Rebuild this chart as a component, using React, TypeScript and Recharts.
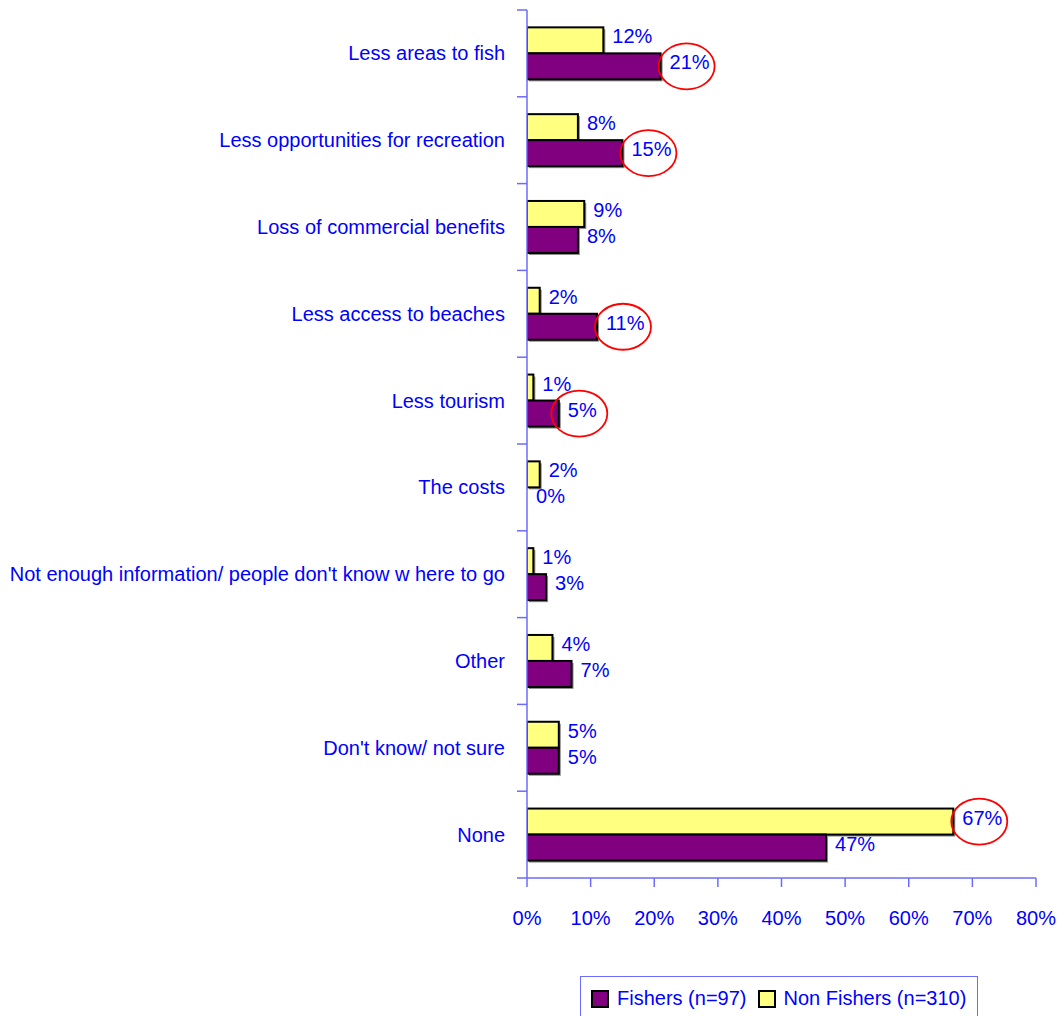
import React from 'react';
import { BarChart, Bar, XAxis, YAxis, LabelList } from 'recharts';

const categories = [
  'Less areas to fish',
  'Less opportunities for recreation',
  'Loss of commercial benefits',
  'Less access to beaches',
  'Less tourism',
  'The costs',
  "Not enough information/ people don't know  w here to go",
  'Other',
  "Don't know/ not sure",
  'None',
];
const fishers = [21, 15, 8, 11, 5, 0, 3, 7, 5, 47];
const nonFishers = [12, 8, 9, 2, 1, 2, 1, 4, 5, 67];
// answers the reference highlights with a red ring
const fishersCircled = [true, true, false, true, true, false, false, false, false, false];
const nonFishersCircled = [false, false, false, false, false, false, false, false, false, true];
const xTicks = [0, 10, 20, 30, 40, 50, 60, 70, 80];

const BLUE = '#0000ff';
const AXIS = '#6b6bff';
const FONT = '"Liberation Sans", Arial, sans-serif';
const PURPLE = '#800080';
const YELLOW = '#ffff80';

const data = categories.map((name, i) => ({
  name,
  fishers: fishers[i],
  nonFishers: nonFishers[i],
}));

/* ── bar with a little drop shadow ─────────────────────── */
function ShadowBar(props: any) {
  const { x, y, width, height, fill } = props;
  if (!width || width <= 0) return null;
  return (
    <g>
      <rect x={x + 2} y={y + 2} width={width} height={height} fill="#8c8c8c" />
      <rect x={x} y={y} width={width} height={height} fill={fill} stroke="#000" strokeWidth={2} />
    </g>
  );
}

/* ── value label, optionally ringed in red ─────────────── */
const makeValueLabel = (circled: boolean[]) => (props: any) => {
  const { x, y, width, height, value, index } = props;
  const tx = x + width + 9;
  const ty = y + height / 2 - 4;
  const textW = String(value).length * 11 + 18;
  return (
    <g>
      <text x={tx} y={ty} fill={BLUE} fontSize={20} fontFamily={FONT} dominantBaseline="central">
        {value}%
      </text>
      {circled[index] && (
        <ellipse
          cx={tx + textW / 2 - 3}
          cy={ty + 4}
          rx={28}
          ry={23}
          fill="none"
          stroke="#ff0000"
          strokeWidth={1.8}
        />
      )}
    </g>
  );
};

/* ── category tick: label + boundary tick marks ────────── */
function CategoryTick(props: any) {
  const { x, y, payload, index } = props;
  const half = payload?.offset || 43.4;
  const axisX = x + 22;
  return (
    <g>
      <text x={x} y={y} textAnchor="end" dominantBaseline="central" fill={BLUE} fontSize={20} fontFamily={FONT}>
        {payload.value}
      </text>
      <line x1={axisX - 10} x2={axisX} y1={y - half} y2={y - half} stroke={AXIS} strokeWidth={1.5} />
      {index === categories.length - 1 && (
        <line x1={axisX - 10} x2={axisX} y1={y + half} y2={y + half} stroke={AXIS} strokeWidth={1.5} />
      )}
    </g>
  );
}

function LegendBox() {
  const sw = (c: string) => ({
    display: 'inline-block',
    width: 14,
    height: 14,
    background: c,
    border: '2px solid #000',
    marginRight: 8,
    verticalAlign: 'middle',
  });
  return (
    <div
      style={{
        position: 'absolute',
        left: 580,
        top: 976,
        width: 398,
        height: 50,
        border: `1.5px solid ${AXIS}`,
        fontFamily: FONT,
        fontSize: 20,
        color: BLUE,
        padding: '9px 0 0 10px',
        boxSizing: 'border-box',
        whiteSpace: 'nowrap',
      }}
    >
      <span style={sw(PURPLE)} />
      <span style={{ verticalAlign: 'middle', marginRight: 11 }}>Fishers (n=97)</span>
      <span style={sw(YELLOW)} />
      <span style={{ verticalAlign: 'middle' }}>Non Fishers (n=310)</span>
    </div>
  );
}

export default function App() {
  return (
    <div style={{ position: 'absolute', left: 0, top: 0, width: 1064, height: 1016, background: '#fff', overflow: 'hidden' }}>
      <BarChart
        width={1064}
        height={1016}
        data={data}
        layout="vertical"
        margin={{ top: 10, right: 28, bottom: 0, left: 0 }}
        barCategoryGap="20%"
        barGap={0}
      >
        <XAxis
          type="number"
          domain={[0, 80]}
          ticks={xTicks}
          tickFormatter={(v) => `${v}%`}
          tickSize={9}
          tickMargin={24}
          axisLine={{ stroke: AXIS, strokeWidth: 1.5 }}
          tickLine={{ stroke: AXIS, strokeWidth: 1.5 }}
          tick={{ fill: BLUE, fontSize: 20, fontFamily: FONT }}
          height={138}
          allowDataOverflow
        />
        <YAxis
          type="category"
          dataKey="name"
          width={527}
          tickSize={10}
          tickMargin={12}
          tickLine={false}
          axisLine={{ stroke: AXIS, strokeWidth: 1.5 }}
          tick={<CategoryTick />}
          interval={0}
        />
        <Bar dataKey="nonFishers" fill={YELLOW} shape={<ShadowBar />} isAnimationActive={false}>
          <LabelList dataKey="nonFishers" content={makeValueLabel(nonFishersCircled)} />
        </Bar>
        <Bar dataKey="fishers" fill={PURPLE} shape={<ShadowBar />} isAnimationActive={false}>
          <LabelList dataKey="fishers" content={makeValueLabel(fishersCircled)} />
        </Bar>
      </BarChart>
      <LegendBox />
    </div>
  );
}
